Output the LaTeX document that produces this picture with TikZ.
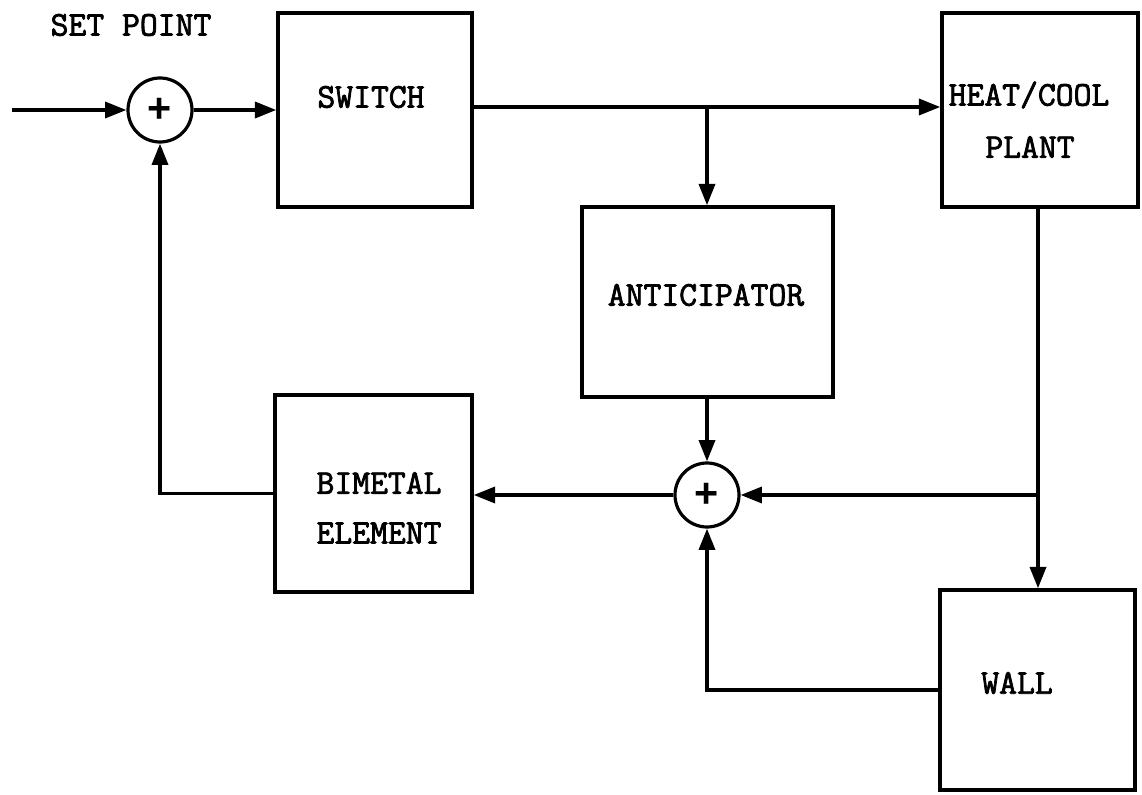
\documentclass[tikz,border=0pt]{standalone}
\usepackage{fontspec}
\usetikzlibrary{arrows.meta}
\newfontfamily\plusfont{Liberation Sans}
\newfontfamily\tyfont[AutoFakeBold=2.2]{Latin Modern Mono}
\begin{document}
\begin{tikzpicture}[x=0.75pt,y=-0.75pt,
  blk/.style={draw,line width=2.6pt,inner sep=0pt},
  sumj/.style={draw,circle,line width=2.4pt,inner sep=0pt,minimum size=48pt,
    font=\plusfont\bfseries\fontsize{31}{31}\selectfont},
  lbl/.style={inner sep=0pt,font=\tyfont\bfseries\fontsize{26}{30}\selectfont},
  wire/.style={line width=2.6pt},
  arr/.style={wire,-{Triangle[length=16pt,width=12pt]}}]
\useasboundingbox (0,0) rectangle (1142,795);
% blocks
\node[blk,minimum width=145.5pt,minimum height=145.5pt] (sw) at (375,110) {};
\node[blk,minimum width=147pt,minimum height=145.5pt] (hc) at (1040,110) {};
\node[blk,minimum width=188.25pt,minimum height=142.5pt] (ant) at (707.5,302) {};
\node[blk,minimum width=147.75pt,minimum height=147.75pt] (bm) at (373.5,493.5) {};
\node[blk,minimum width=146.25pt,minimum height=150pt] (wl) at (1037.5,690) {};
% labels
\node[lbl] (tsp) at (131,25) {SET POINT};
\node[lbl] (tsw) at (371,97) {SWITCH};
\node[lbl] (thc1) at (1029,95) {HEAT/COOL};
\node[lbl] (thc2) at (1030,147) {PLANT};
\node[lbl] (tant) at (706,295) {ANTICIPATOR};
\node[lbl] (tbm1) at (379,483) {BIMETAL};
\node[lbl] (tbm2) at (379,533) {ELEMENT};
\node[lbl] (twl) at (1017,683) {WALL};
% summing junctions
\node[sumj] (s1) at (160,110) {+};
\node[sumj] (s2) at (707,495) {+};
% connectors
\coordinate (in) at (12,110);
\coordinate (br) at (707,107);
\coordinate (j) at (1038,495);
\draw[arr] (in) -- (s1.west);
\draw[arr] (s1.east) -- (sw.west |- s1.east);
\draw[arr] (sw.east |- br) -- (hc.west |- br);
\draw[arr] (br) -- (br |- ant.north);
\draw[arr] (ant.south -| s2.north) -- (s2.north);
\draw[arr] (hc.south -| j) -- (wl.north -| j);
\draw[arr] (j) -- (s2.east);
\draw[arr] (s2.west) -- (bm.east |- s2.west);
\draw[arr] (bm.west) -- (bm.west -| s1.south) -- (s1.south);
\draw[arr] (wl.west) -- (wl.west -| s2.south) -- (s2.south);
\end{tikzpicture}
\end{document}
